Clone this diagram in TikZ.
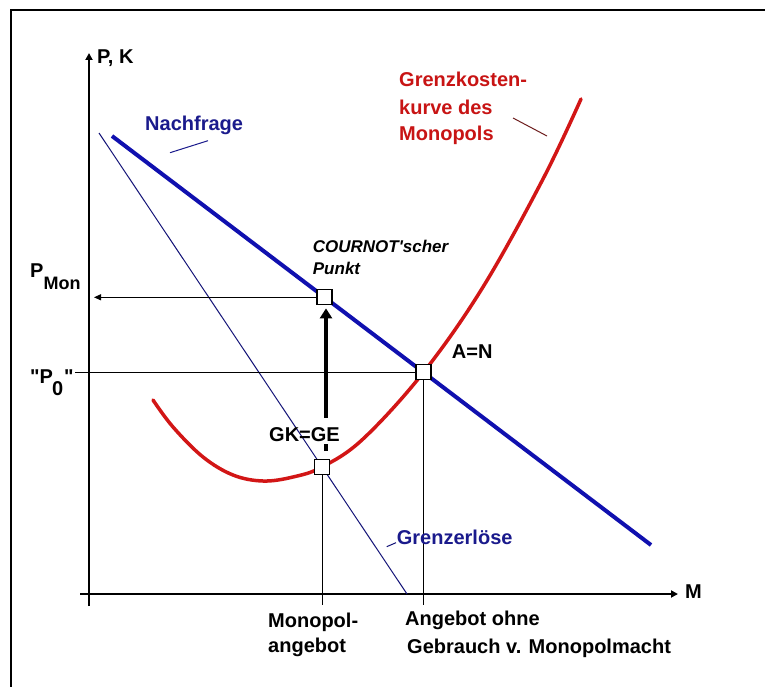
\documentclass[tikz,border=0pt]{standalone}
\usepackage{fontspec}
\setmainfont{Liberation Sans}
\newfontfamily\lsans{Liberation Sans}
\usetikzlibrary{arrows.meta,calc}
\definecolor{dblue}{RGB}{16,16,175}
\definecolor{tblue}{RGB}{26,26,140}
\definecolor{nblue}{RGB}{20,20,120}
\definecolor{dred}{RGB}{210,22,22}
\definecolor{tred}{RGB}{200,20,20}
\definecolor{pred}{RGB}{110,30,30}
\begin{document}
\begin{tikzpicture}[x=1pt,y=-1pt,
  lbl/.style={font=\lsans\fontsize{20}{24}\selectfont\bfseries, inner sep=0pt, anchor=base west},
  ital/.style={font=\lsans\fontsize{17}{20}\selectfont\bfseries\itshape, inner sep=0pt, anchor=base west},
  ptbox/.style={draw, fill=white, line width=1.2pt, minimum size=15pt, inner sep=0pt},
  thinline/.style={line width=1pt},
  axis/.style={line width=2.5pt, -{Triangle[length=7pt,width=7pt]}},
  bigarrow/.style={line width=4.5pt}]
\useasboundingbox (0,0) rectangle (765,687);
\fill[white] (0,0) rectangle (765,687);
\draw[line width=2pt] (11,690) -- (11,10) -- (768,10);

% axes
\coordinate (ybot) at (89,606);
\coordinate (ytop) at (89,53);
\coordinate (xbeg) at (80,594);
\coordinate (xend) at (678,594);
\draw[axis] (ybot) -- (ytop);
\draw[axis] (xbeg) -- (xend);

% curves
\coordinate (ger1) at (99,133);
\coordinate (ger2) at (407,594);
\draw[nblue, line width=1pt] (ger1) -- (ger2);
\coordinate (nf1) at (112,136);
\coordinate (nf2) at (651,545);
\draw[dblue, line width=4pt] (nf1) -- (nf2);
\draw[dred, line width=3.5pt, line cap=round] plot[smooth, tension=0.6] coordinates
 {(153,400) (173,427) (203,457) (233,475) (263,481) (293,477) (322,467)
  (363,439) (423.5,372.3) (483,287) (543,179) (581,99)};

% reference lines
\coordinate (pmonend) at (94,297.3);
\coordinate (p0beg) at (75,372.3);
\coordinate (gebot) at (322,605);
\coordinate (anbot) at (423.5,605);

% boxes
\node[ptbox] (cp) at (324.5,297.3) {};
\node[ptbox] (an) at (423.5,372.3) {};
\node[ptbox] (ge) at (322,467.3) {};

\draw[thinline, -{Triangle[length=7pt,width=6pt]}] (cp.west) -- (pmonend);
\draw[thinline] (p0beg) -- (an.west);
\draw[thinline] (ge.south) -- (gebot);
\draw[thinline] (an.south) -- (anbot);

% labels
\node[lbl] (pk) at (97,64) {P, K};
\node[lbl] (mlab) at (685,598) {M};
\node[lbl, tblue] (nf) at (145,130.7) {Nachfrage};
\node[lbl, tred] (gk1) at (399,87) {Grenzkosten-};
\node[lbl, tred] (gk2) at (399,115) {kurve des};
\node[lbl, tred] (gk3) at (399,141) {Monopols};
\node[ital] (cn1) at (312.7,252.7) {COURNOT'scher};
\node[ital] (cn2) at (312.7,274.3) {Punkt};
\node[lbl] (gkge) at (269,441.7) {GK=GE};
\node[lbl] (anl) at (451.7,358) {A=N};
\node[lbl, tblue] (gel) at (396.7,544) {Grenzerlöse};
\node[lbl] (mo1) at (268,627) {Monopol-};
\node[lbl] (mo2) at (268,652) {angebot};
\node[lbl] (ao1) at (405,625) {Angebot ohne};
\node[lbl] (ao2) at (407,653) {Gebrauch v. Monopolmacht};
\node[lbl] (pmon) at (30,277) {P\raisebox{-12pt}{\fontsize{18}{20}\selectfont Mon}};
\node[lbl] (pnull) at (30,383) {"P\kern-1pt\raisebox{-12pt}{0}\kern1pt"};

% pointers
\coordinate (nfp1) at (170,152.7);
\coordinate (nfp2) at (208,140.7);
\draw[tblue, line width=1pt] (nfp1) -- (nfp2);
\coordinate (gkp1) at (513,118);
\coordinate (gkp2) at (547,136);
\draw[pred, line width=1pt] (gkp1) -- (gkp2);
\coordinate (gep1) at (386.7,546.7);
\coordinate (gep2) at (396,542.7);
\draw[nblue, line width=1pt] (gep1) -- (gep2);

% thick arrow GK=GE -> COURNOT point
\draw[bigarrow] ($(ge.north)+(4,-8)$) -- ($(ge.north)+(4,-15)$);
\draw[bigarrow, -{Triangle[length=10pt,width=12pt]}] ($(cp.south |- gkge.north)+(1.5,-10)$) -- ($(cp.south)+(1.5,3)$);
\end{tikzpicture}
\end{document}
